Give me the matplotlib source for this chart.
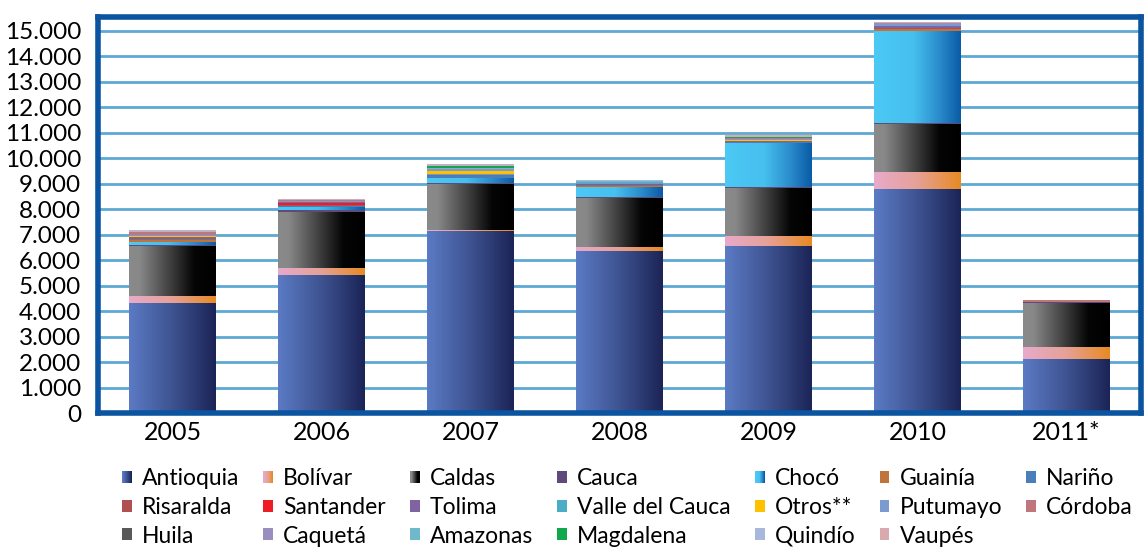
import numpy as np
import matplotlib
matplotlib.use('Agg')
import matplotlib.pyplot as plt
from matplotlib.colors import LinearSegmentedColormap
from matplotlib.patches import Patch, Rectangle
from matplotlib.legend_handler import HandlerBase

plt.rcParams['font.family'] = ['Lato', 'DejaVu Sans']

# datos por departamento
years = ['2005', '2006', '2007', '2008', '2009', '2010', '2011*']
antioquia = [4325, 5410, 7140, 6350, 6550, 8780, 2120]
bolivar = [265, 275, 30, 160, 390, 670, 480]
caldas = [1970, 2210, 1810, 1920, 1865, 1880, 1710]
cauca = [15, 60, 40, 60, 40, 40, 40]
choco = [145, 110, 185, 390, 1725, 3620, 0]
guainia = [75, 10, 15, 40, 20, 60, 0]
narino = [30, 50, 60, 30, 20, 20, 0]
risaralda = [20, 20, 10, 20, 20, 10, 0]
santander = [15, 90, 10, 10, 10, 10, 0]
tolima = [40, 30, 50, 20, 20, 80, 0]
valle = [15, 20, 30, 20, 20, 10, 0]
otros = [10, 5, 105, 10, 10, 10, 0]
putumayo = [60, 10, 40, 10, 60, 60, 0]
cordoba = [110, 40, 10, 10, 20, 20, 80]
huila = [5, 5, 10, 5, 5, 5, 0]
caqueta = [5, 5, 30, 10, 10, 10, 0]
amazonas = [5, 5, 30, 20, 10, 5, 0]
magdalena = [5, 5, 80, 30, 30, 5, 0]
quindio = [10, 10, 40, 10, 5, 5, 0]
vaupes = [55, 30, 30, 10, 60, 40, 0]

# degradados tipo Excel
cm_antioquia = LinearSegmentedColormap.from_list('ant', ['#5b7bc4', '#3e5391', '#1b2456'])
cm_bolivar = LinearSegmentedColormap.from_list('bol', ['#e8aacb', '#e6a196', '#e88a22'])
cm_caldas = LinearSegmentedColormap.from_list(
    'cal', [(0, '#8a8a8a'), (0.12, '#888888'), (0.5, '#3a3a3a'), (0.75, '#050505'), (1, '#000000')])
cm_choco = LinearSegmentedColormap.from_list(
    'cho', [(0, '#4cc9f5'), (0.45, '#46c0ef'), (0.75, '#2a8ccc'), (1, '#0a5ba5')])

series = [
    ('Antioquia', antioquia, cm_antioquia),
    ('Bolívar', bolivar, cm_bolivar),
    ('Caldas', caldas, cm_caldas),
    ('Cauca', cauca, '#604a7b'),
    ('Chocó', choco, cm_choco),
    ('Guainía', guainia, '#c0743c'),
    ('Nariño', narino, '#4a7ebb'),
    ('Risaralda', risaralda, '#b05050'),
    ('Santander', santander, '#ee1c24'),
    ('Tolima', tolima, '#8064a2'),
    ('Valle del Cauca', valle, '#4bacc6'),
    ('Otros**', otros, '#ffc000'),
    ('Putumayo', putumayo, '#7b9bd0'),
    ('Córdoba', cordoba, '#c0777c'),
    ('Huila', huila, '#595959'),
    ('Caquetá', caqueta, '#9a8ebf'),
    ('Amazonas', amazonas, '#70b8cc'),
    ('Magdalena', magdalena, '#10a84a'),
    ('Quindío', quindio, '#a8b8dc'),
    ('Vaupés', vaupes, '#d8aaae'),
]


class HandlerGrad(HandlerBase):
    def __init__(self, cmap):
        super().__init__()
        self.cmap = cmap

    def create_artists(self, legend, orig_handle, xdescent, ydescent, width, height, fontsize, trans):
        n = 10
        arts = []
        for i in range(n):
            arts.append(Rectangle((-xdescent + i * width / n, -ydescent), width / n, height,
                                  facecolor=self.cmap(i / (n - 1)), edgecolor='none', transform=trans))
        return arts


fig = plt.figure(figsize=(11.46, 5.49), dpi=100)
ax = fig.add_axes([98 / 1146, 1 - 413 / 549, (1141 - 98) / 1146, (413 - 17) / 549])

x = np.arange(len(years))
width = 0.58
bottom = np.zeros(len(years))
grad = np.linspace(0, 1, 256).reshape(1, -1)
handles = []
hmap = {}
for name, vals, col in series:
    vals = np.array(vals, dtype=float)
    if isinstance(col, str):
        ax.bar(x, vals, width, bottom=bottom, color=col, zorder=2)
        h = Patch(facecolor=col, label=name)
    else:
        for xi, v, b in zip(x, vals, bottom):
            if v <= 0:
                continue
            ax.imshow(grad, cmap=col, aspect='auto', interpolation='bilinear',
                      extent=(xi - width / 2, xi + width / 2, b, b + v), zorder=2)
        h = Patch(facecolor=col(0.5), label=name)
        hmap[h] = HandlerGrad(col)
    handles.append(h)
    bottom += vals

ax.set_xlim(-0.5, len(years) - 0.5)
ax.set_ylim(0, 15530)
yt = np.arange(0, 16000, 1000)
ax.set_yticks(yt)
ax.set_yticklabels(['0'] + [f'{v:,.0f}'.replace(',', '.') for v in yt[1:]])
ax.set_xticks(x)
ax.set_xticklabels(years)
ax.tick_params(length=0, labelsize=17.5)
ax.tick_params(axis='x', pad=6, labelsize=18)
ax.tick_params(axis='y', pad=12)
ax.yaxis.grid(True, color='#5ea8d4', linewidth=2)
ax.set_axisbelow(True)
for s in ax.spines.values():
    s.set_color('#0a54a0')
    s.set_linewidth(4)

# leyenda por filas como en Excel (7 columnas)
ncol = 7
order = []
for c in range(ncol):
    for r in range(3):
        i = r * ncol + c
        if i < len(handles):
            order.append(i)
leg_handles = [handles[i] for i in order]
fig.legend(handles=leg_handles, labels=[h.get_label() for h in leg_handles],
           handler_map=hmap, ncol=ncol, loc='upper left',
           bbox_to_anchor=(122 / 1146, 1 - 468 / 549), frameon=False,
           fontsize=16.5, handlelength=0.42, handleheight=0.42, handletextpad=0.45,
           columnspacing=1.05, labelspacing=0.34, borderpad=0, borderaxespad=0)

plt.savefig('out.png', dpi=100)
